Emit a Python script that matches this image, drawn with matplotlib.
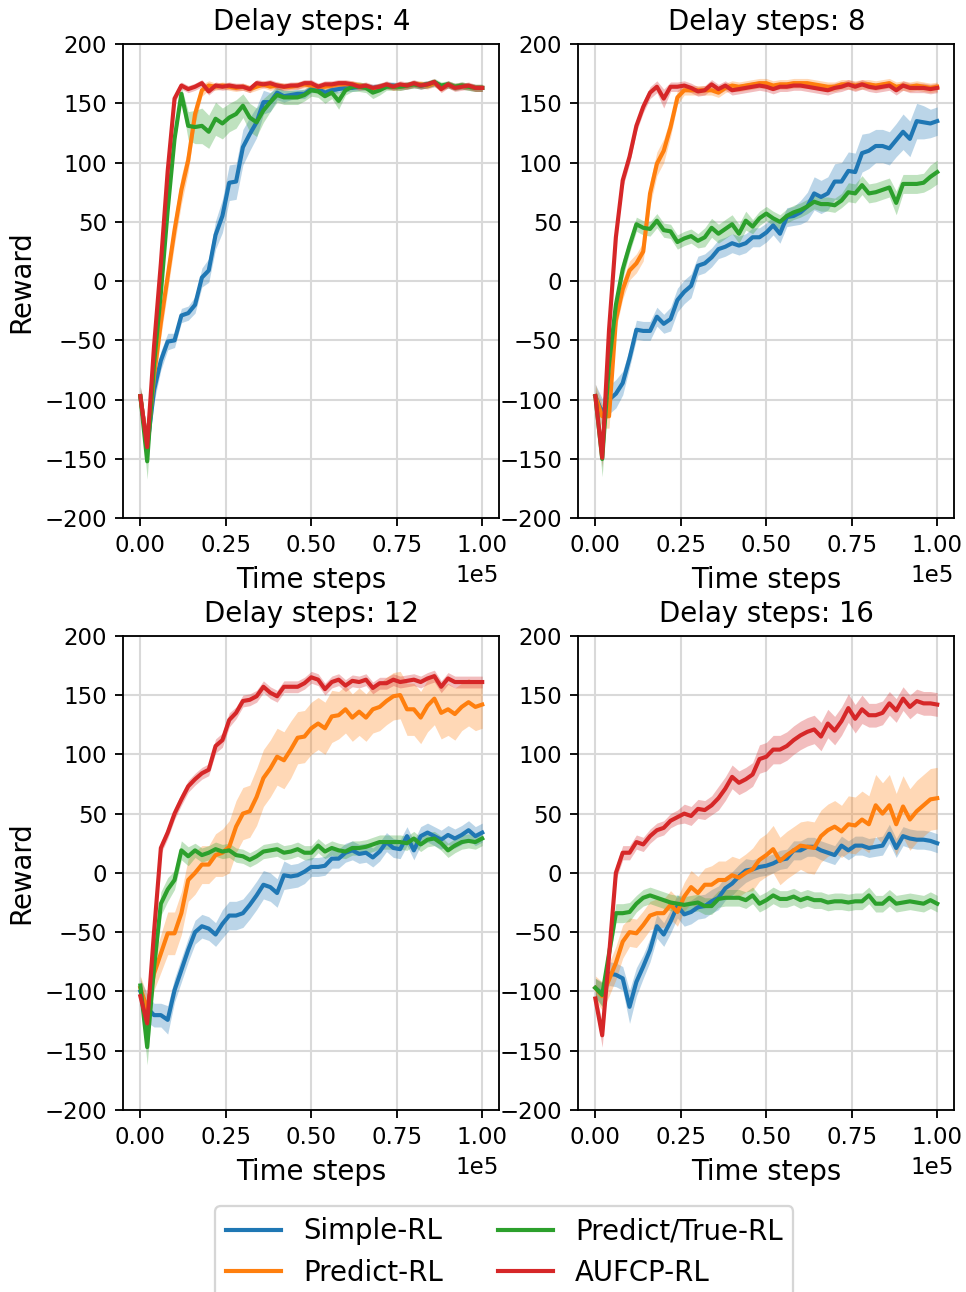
import numpy as np
import matplotlib
matplotlib.use('Agg')
import matplotlib.pyplot as plt

# time axis: 51 evaluations between 0 and 1e5 steps
steps = np.linspace(0, 1e5, 51)
delays = [4, 8, 12, 16]
methods = ['Simple-RL', 'Predict-RL', 'Predict/True-RL', 'AUFCP-RL']
colors = ['tab:blue', 'tab:orange', 'tab:green', 'tab:red']

# ---- delay 4 ----
d4_simple = [-97, -140, -92, -67, -51, -50, -29, -27, -20, 3, 9, 39, 55, 83, 84, 113, 124, 134, 151, 151,
             159, 156, 157, 158, 158, 162, 162, 159, 161, 162, 163, 163, 164, 164, 163, 164, 165, 165, 164, 165,
             166, 165, 166, 167, 164, 166, 164, 165, 164, 163, 163]
d4_predict = [-97, -140, -80, -35, 4, 43, 77, 102, 141, 161, 165, 164, 165, 164, 163, 164, 162, 164, 166, 164,
              165, 164, 164, 165, 166, 165, 164, 164, 165, 166, 166, 166, 165, 164, 162, 164, 165, 164, 164, 165,
              166, 166, 165, 167, 163, 166, 164, 165, 164, 163, 163]
d4_true = [-97, -152, -70, -10, 60, 120, 158, 131, 130, 131, 126, 137, 133, 138, 141, 148, 138, 134, 144, 151,
           157, 155, 155, 155, 157, 161, 160, 156, 159, 152, 161, 164, 164, 163, 159, 161, 164, 164, 164, 165,
           166, 165, 166, 168, 165, 166, 164, 165, 164, 163, 163]
d4_aufcp = [-97, -140, -55, 15, 93, 154, 165, 162, 164, 167, 160, 165, 164, 165, 164, 164, 162, 167, 166, 167,
            165, 164, 165, 165, 167, 167, 164, 166, 166, 167, 167, 166, 164, 165, 163, 164, 166, 164, 166, 165,
            167, 165, 166, 168, 162, 166, 163, 164, 165, 163, 163]
d4_simple_sd = [8, 12, 10, 8, 7, 6, 6, 6, 7, 8, 10, 12, 14, 15, 15, 15, 14, 13, 10, 8,
                6, 5, 4, 4, 4, 3, 3, 3, 3, 3, 3, 3, 3, 3, 3, 3, 3, 3, 3, 3,
                3, 3, 3, 3, 3, 3, 3, 3, 3, 3, 3]
d4_predict_sd = [8, 12, 12, 12, 12, 12, 12, 10, 8, 5, 4, 3, 3, 3, 3, 3, 3, 3, 3, 3,
                 3, 3, 3, 3, 3, 3, 3, 3, 3, 3, 3, 3, 3, 3, 3, 3, 3, 3, 3, 3,
                 3, 3, 3, 3, 3, 3, 3, 3, 3, 3, 3]
d4_true_sd = [8, 15, 10, 8, 8, 6, 6, 12, 14, 15, 14, 14, 13, 12, 12, 10, 12, 12, 10, 8,
              6, 6, 6, 6, 5, 5, 5, 6, 5, 7, 4, 4, 4, 4, 5, 4, 3, 3, 3, 3,
              3, 3, 3, 3, 3, 3, 3, 3, 3, 3, 3]
d4_aufcp_sd = [6, 8, 6, 6, 5, 4, 3, 3, 3, 3, 3, 3, 3, 3, 3, 3, 3, 3, 3, 3,
               3, 3, 3, 3, 3, 3, 3, 3, 3, 3, 3, 3, 3, 3, 3, 3, 3, 3, 3, 3,
               3, 3, 3, 3, 3, 3, 3, 3, 3, 3, 3]

# ---- delay 8 ----
d8_simple = [-97, -111, -100, -95, -86, -65, -41, -42, -42, -30, -36, -32, -16, -9, -4, 13, 15, 20, 27, 29,
             32, 30, 32, 37, 37, 41, 47, 40, 54, 55, 58, 63, 74, 71, 74, 84, 84, 93, 92, 108,
             110, 114, 114, 112, 119, 126, 120, 135, 134, 133, 135]
d8_predict = [-97, -114, -114, -33, -7, 9, 15, 25, 74, 99, 110, 130, 155, 161, 161, 161, 161, 161, 159, 163,
              165, 164, 165, 166, 167, 167, 165, 166, 166, 167, 167, 167, 166, 165, 164, 164, 166, 166, 165, 166,
              166, 165, 166, 167, 164, 165, 164, 165, 164, 163, 164]
d8_true = [-97, -150, -70, -20, 10, 30, 48, 45, 44, 51, 43, 42, 33, 36, 38, 34, 37, 45, 40, 44,
           48, 40, 51, 46, 53, 57, 53, 50, 55, 58, 60, 63, 67, 65, 65, 64, 68, 75, 74, 81,
           74, 75, 77, 79, 66, 82, 82, 82, 83, 88, 92]
d8_aufcp = [-97, -149, -41, 37, 85, 105, 131, 147, 159, 164, 154, 164, 164, 165, 163, 160, 161, 166, 162, 165,
            161, 162, 163, 164, 165, 164, 162, 164, 164, 165, 165, 164, 163, 162, 161, 163, 164, 166, 164, 166,
            164, 163, 164, 165, 161, 165, 163, 163, 163, 162, 163]
d8_simple_sd = [10, 12, 12, 12, 10, 8, 8, 8, 8, 8, 8, 10, 10, 10, 10, 8, 8, 8, 8, 8,
                8, 8, 8, 8, 8, 8, 8, 8, 8, 8, 10, 12, 14, 14, 14, 15, 16, 16, 16, 16,
                15, 14, 14, 14, 14, 15, 15, 15, 14, 12, 12]
d8_predict_sd = [10, 10, 10, 8, 8, 8, 8, 8, 10, 10, 10, 8, 6, 4, 4, 4, 4, 4, 4, 4,
                 4, 4, 4, 4, 4, 4, 4, 4, 4, 4, 4, 4, 4, 4, 4, 4, 4, 4, 4, 4,
                 4, 4, 4, 4, 4, 4, 4, 4, 4, 4, 4]
d8_true_sd = [8, 15, 10, 8, 8, 6, 6, 6, 6, 6, 6, 6, 6, 6, 6, 6, 8, 8, 8, 8,
              8, 8, 8, 6, 6, 6, 6, 6, 6, 6, 6, 6, 6, 6, 6, 6, 6, 8, 8, 8,
              8, 8, 8, 8, 10, 8, 8, 8, 8, 10, 10]
d8_aufcp_sd = [6, 8, 6, 6, 6, 6, 5, 5, 5, 5, 8, 4, 4, 4, 4, 4, 4, 4, 4, 4,
               4, 4, 4, 4, 4, 4, 4, 4, 4, 4, 4, 4, 4, 4, 4, 4, 4, 4, 4, 4,
               4, 4, 4, 4, 4, 4, 4, 4, 4, 4, 4]

# ---- delay 12 ----
d12_simple = [-100, -114, -120, -120, -124, -99, -82, -65, -50, -45, -47, -52, -43, -36, -36, -34, -27, -19, -10, -12,
              -17, -2, -3, -2, 1, 5, 5, 6, 12, 12, 17, 19, 16, 17, 13, 18, 26, 21, 20, 31,
              19, 31, 34, 31, 28, 32, 29, 32, 36, 31, 34]
d12_predict = [-97, -115, -85, -68, -51, -51, -34, -6, 0, 7, 7, 15, 17, 22, 39, 50, 52, 64, 80, 88,
               98, 95, 104, 114, 115, 122, 126, 122, 132, 133, 138, 131, 136, 131, 138, 140, 145, 149, 150, 138,
               138, 131, 141, 147, 135, 138, 134, 140, 144, 140, 142]
d12_true = [-95, -147, -80, -26, -14, -6, 19, 14, 19, 15, 17, 20, 18, 19, 15, 14, 11, 14, 18, 19,
            20, 17, 18, 20, 17, 17, 23, 18, 21, 19, 18, 21, 21, 22, 24, 26, 26, 26, 26, 25,
            29, 24, 28, 29, 25, 19, 23, 26, 27, 26, 29]
d12_aufcp = [-104, -127, -50, 21, 34, 50, 62, 73, 79, 84, 87, 107, 112, 129, 135, 145, 146, 149, 157, 152,
             149, 157, 157, 157, 160, 165, 163, 155, 161, 163, 158, 162, 161, 163, 156, 160, 160, 163, 161, 162,
             163, 161, 164, 166, 157, 164, 161, 161, 161, 161, 161]
d12_simple_sd = [10, 12, 10, 10, 12, 10, 10, 10, 10, 10, 10, 10, 12, 12, 12, 12, 12, 12, 12, 12,
                 12, 12, 10, 10, 10, 8, 8, 8, 8, 8, 8, 8, 8, 8, 8, 8, 8, 8, 8, 8,
                 8, 8, 8, 8, 8, 8, 8, 8, 8, 8, 8]
d12_predict_sd = [10, 12, 14, 16, 18, 18, 18, 18, 18, 16, 16, 18, 20, 22, 22, 22, 22, 24, 24, 24,
                  24, 24, 24, 22, 22, 22, 22, 22, 22, 20, 20, 20, 20, 20, 20, 20, 20, 20, 20, 22,
                  22, 22, 22, 22, 22, 22, 22, 20, 20, 20, 20]
d12_true_sd = [8, 15, 10, 10, 10, 8, 8, 8, 6, 6, 6, 6, 6, 6, 6, 6, 6, 6, 6, 6,
               6, 6, 6, 6, 6, 6, 6, 6, 6, 6, 6, 6, 6, 6, 6, 6, 6, 6, 6, 6,
               6, 6, 6, 6, 6, 6, 6, 6, 6, 6, 6]
d12_aufcp_sd = [6, 8, 6, 5, 5, 5, 5, 5, 5, 5, 5, 6, 6, 6, 5, 5, 5, 5, 5, 5,
                5, 5, 5, 5, 5, 5, 5, 5, 5, 5, 5, 5, 5, 5, 5, 5, 5, 5, 5, 5,
                5, 5, 5, 5, 5, 5, 5, 5, 5, 5, 5]

# ---- delay 16 ----
d16_simple = [-97, -102, -85, -86, -89, -113, -92, -79, -65, -45, -52, -41, -28, -35, -33, -29, -28, -24, -21, -13,
              -9, -3, 2, 3, 5, 6, 8, 11, 12, 19, 19, 22, 22, 19, 17, 15, 23, 19, 23, 23,
              21, 22, 23, 33, 21, 31, 29, 28, 28, 27, 25]
d16_predict = [-97, -104, -90, -76, -58, -50, -51, -44, -36, -34, -34, -27, -33, -20, -12, -17, -10, -10, -6, -6,
               -2, -4, 0, 3, 11, 15, 20, 10, 15, 19, 23, 22, 21, 31, 36, 39, 35, 41, 40, 45,
               41, 57, 50, 57, 41, 56, 45, 52, 57, 62, 63]
d16_true = [-97, -103, -68, -34, -34, -33, -26, -21, -19, -21, -23, -25, -26, -27, -26, -25, -28, -28, -22, -21,
            -21, -21, -23, -19, -26, -23, -19, -22, -22, -20, -23, -21, -23, -23, -25, -24, -24, -25, -24, -24,
            -19, -26, -26, -21, -26, -25, -24, -25, -26, -23, -26]
d16_aufcp = [-106, -137, -70, 0, 17, 17, 26, 24, 31, 36, 38, 44, 47, 50, 48, 54, 53, 57, 63, 71,
             81, 76, 79, 83, 96, 98, 104, 104, 107, 112, 116, 119, 121, 115, 126, 120, 128, 139, 130, 138,
             133, 133, 135, 143, 137, 147, 140, 145, 143, 143, 142]
d16_simple_sd = [8, 10, 10, 10, 10, 14, 12, 10, 10, 10, 10, 10, 10, 10, 10, 10, 10, 10, 10, 10,
                 10, 10, 10, 8, 8, 8, 8, 8, 8, 8, 8, 8, 8, 8, 8, 8, 8, 8, 8, 8,
                 8, 8, 8, 8, 8, 8, 8, 8, 8, 8, 8]
d16_predict_sd = [10, 12, 14, 14, 14, 12, 12, 12, 12, 12, 12, 12, 12, 12, 14, 14, 14, 16, 16, 16,
                  16, 16, 16, 18, 18, 18, 20, 20, 20, 20, 20, 22, 22, 22, 22, 22, 22, 24, 24, 24,
                  24, 26, 26, 26, 26, 26, 26, 26, 26, 26, 26]
d16_true_sd = [8, 10, 8, 8, 8, 8, 7, 7, 7, 7, 7, 7, 7, 7, 7, 7, 7, 7, 7, 7,
               7, 7, 7, 7, 7, 7, 7, 7, 7, 7, 7, 7, 7, 7, 7, 7, 7, 7, 7, 7,
               7, 7, 7, 7, 7, 7, 7, 7, 7, 7, 7]
d16_aufcp_sd = [8, 10, 8, 6, 6, 6, 6, 6, 6, 6, 6, 6, 6, 8, 8, 8, 8, 8, 10, 10,
                10, 10, 10, 10, 12, 12, 12, 12, 12, 12, 12, 12, 12, 12, 12, 12, 12, 12, 12, 12,
                10, 10, 10, 10, 10, 10, 10, 10, 10, 10, 10]

means = {4: [d4_simple, d4_predict, d4_true, d4_aufcp],
         8: [d8_simple, d8_predict, d8_true, d8_aufcp],
         12: [d12_simple, d12_predict, d12_true, d12_aufcp],
         16: [d16_simple, d16_predict, d16_true, d16_aufcp]}
spreads = {4: [d4_simple_sd, d4_predict_sd, d4_true_sd, d4_aufcp_sd],
           8: [d8_simple_sd, d8_predict_sd, d8_true_sd, d8_aufcp_sd],
           12: [d12_simple_sd, d12_predict_sd, d12_true_sd, d12_aufcp_sd],
           16: [d16_simple_sd, d16_predict_sd, d16_true_sd, d16_aufcp_sd]}

dpi = 165
fig, axs = plt.subplots(2, 2, figsize=(966 / dpi, 1292 / dpi), dpi=dpi)
fig.subplots_adjust(left=0.1276, right=0.9879, top=0.9659, bottom=0.1409,
                    wspace=0.21, hspace=0.248)

for ax, delay in zip(axs.flat, delays):
    for name, c, m, s in zip(methods, colors, means[delay], spreads[delay]):
        m = np.array(m, dtype=float)
        s = np.array(s, dtype=float)
        ax.plot(steps, m, color=c, lw=1.8, label=name)
        ax.fill_between(steps, m - s, m + s, color=c, alpha=0.3, lw=0)
    ax.set_title('Delay steps: %d' % delay, fontsize=12)
    ax.set_xlabel('Time steps', fontsize=12)
    ax.set_ylim(-200, 200)
    ax.set_yticks(np.arange(-200, 201, 50))
    ax.set_xticks([0, 25000, 50000, 75000, 100000])
    ax.ticklabel_format(axis='x', style='sci', scilimits=(0, 0))
    ax.grid(True, color='#d9d9d9', lw=0.9)
    ax.set_axisbelow(True)

axs[0, 0].set_ylabel('Reward', fontsize=12)
axs[1, 0].set_ylabel('Reward', fontsize=12)

handles, labels = axs[0, 0].get_legend_handles_labels()
fig.legend(handles, labels, ncol=2, fontsize=12, loc='upper center',
           bbox_to_anchor=(0.522, 0.077), columnspacing=2.0)

fig.savefig('out.png', dpi=dpi)
